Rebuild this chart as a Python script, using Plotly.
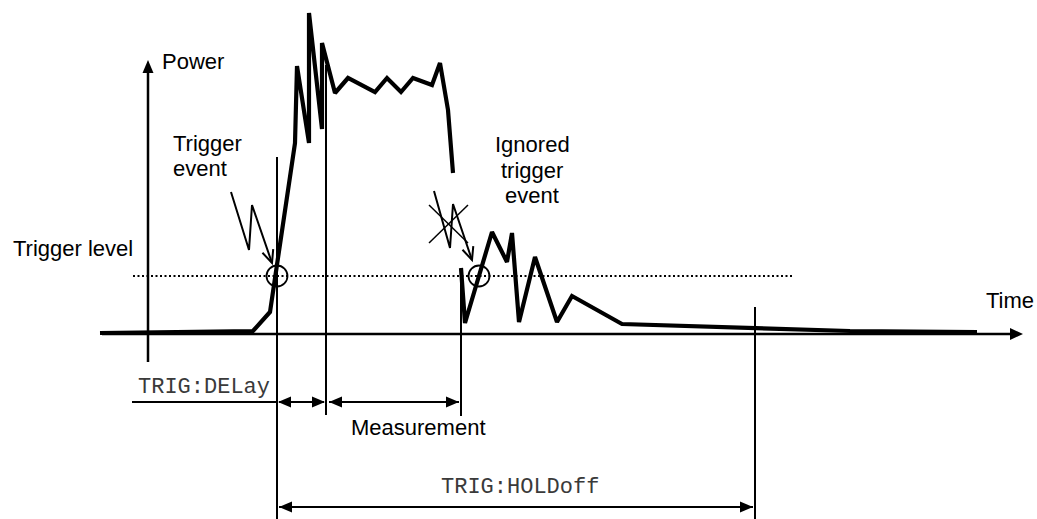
import math
import plotly.graph_objects as go

# ---- data (diagram units: x = time position, y = screen-like vertical position, down = lower power) ----
sig1_time = [100, 250, 253, 270, 295, 297, 309, 309, 322, 322, 335, 348, 375, 387, 401, 413, 432, 440, 448, 453]
sig1_level = [333, 331, 331, 312, 143, 66, 143, 13, 129, 43, 93, 78, 92, 78, 92, 78, 85, 63, 110, 173]
sig2_time = [461, 465, 492, 507, 512, 519, 535, 557, 572, 622, 850, 977]
sig2_level = [268, 323, 232, 262, 233, 322, 257, 322, 296, 324, 331, 332]

trigger_level = 276
trigger_line_span = [133, 792]
baseline = 334
time_axis_span = [102, 1023]
power_axis_x = 148
power_axis_span = [362, 60]

t_trigger = 277
t_meas_start = 326
t_meas_end = 461
t_holdoff_end = 755
trig_event_t = 277
ignored_event_t = 479

delay_row = 402
hold_row = 507

trig_bolt_x = [231, 249, 252, 272]
trig_bolt_y = [192, 250, 205, 263]
ign_bolt_x = [434, 450, 453, 472]
ign_bolt_y = [191, 248, 204, 260]

SANS = "Liberation Sans, Arial, sans-serif"
MONO = "Liberation Mono, Courier New, monospace"

fig = go.Figure()

def line(xs, ys, w, dash=None):
    fig.add_trace(go.Scatter(x=xs, y=ys, mode="lines", hoverinfo="skip", showlegend=False,
                             line=dict(color="black", width=w, dash=dash)))

shapes = []

def filled_head(tipx, tipy, dx, dy, length=13, half=5.5):
    n = math.hypot(dx, dy)
    ux, uy = dx / n, dy / n
    bx, by = tipx - ux * length, tipy - uy * length
    px, py = -uy * half, ux * half
    shapes.append(dict(type="path", xref="x", yref="y",
                       path=f"M {tipx},{tipy} L {bx+px},{by+py} L {bx-px},{by-py} Z",
                       fillcolor="black", line=dict(color="black", width=0)))

def open_head(tipx, tipy, dx, dy, length=14, ang=24):
    n = math.hypot(dx, dy)
    ux, uy = dx / n, dy / n
    pts = []
    for s in (1, -1):
        a = math.radians(ang) * s
        rx = ux * math.cos(a) - uy * math.sin(a)
        ry = ux * math.sin(a) + uy * math.cos(a)
        pts.append((tipx - rx * length, tipy - ry * length))
    shapes.append(dict(type="path", xref="x", yref="y",
                       path=f"M {pts[0][0]},{pts[0][1]} L {tipx},{tipy} L {pts[1][0]},{pts[1][1]}",
                       line=dict(color="black", width=2)))

# axes
line([time_axis_span[0], time_axis_span[1] - 10], [baseline, baseline], 2.5)
filled_head(time_axis_span[1], baseline, 1, 0, length=13, half=6)
line([power_axis_x, power_axis_x], [power_axis_span[0], power_axis_span[1] + 10], 2.5)
filled_head(power_axis_x, power_axis_span[1], 0, -1, length=13, half=5.5)

# trigger level
line(trigger_line_span, [trigger_level, trigger_level], 1.8, dash="2px,2.5px")

# vertical markers
line([t_trigger, t_trigger], [157, 519], 2)
line([t_meas_start, t_meas_start], [65, 415], 2)
line([t_meas_end, t_meas_end], [268, 416], 2)
line([t_holdoff_end, t_holdoff_end], [307, 519], 2)

# signal
line(sig1_time, sig1_level, 4.2)
line(sig2_time, sig2_level, 4.2)

# circles at trigger crossings
for cx in (trig_event_t, ignored_event_t):
    shapes.append(dict(type="circle", xref="x", yref="y", x0=cx - 10.5, x1=cx + 10.5,
                       y0=trigger_level - 10.5, y1=trigger_level + 10.5,
                       line=dict(color="black", width=1.8)))

# lightning arrows
line(trig_bolt_x, trig_bolt_y, 2)
open_head(trig_bolt_x[-1], trig_bolt_y[-1], trig_bolt_x[-1] - trig_bolt_x[-2], trig_bolt_y[-1] - trig_bolt_y[-2])
line(ign_bolt_x, ign_bolt_y, 2)
open_head(ign_bolt_x[-1], ign_bolt_y[-1], ign_bolt_x[-1] - ign_bolt_x[-2], ign_bolt_y[-1] - ign_bolt_y[-2])
# cross over ignored event
line([429, 468], [205, 243], 1.5)
line([429, 468], [243, 205], 1.5)

# dimension rows
line([132, t_trigger], [delay_row, delay_row], 2)
line([t_trigger + 2, t_meas_start - 2], [delay_row, delay_row], 2)
filled_head(t_trigger + 1, delay_row, -1, 0)
filled_head(t_meas_start - 1, delay_row, 1, 0)
line([t_meas_start + 3, t_meas_end - 2], [delay_row, delay_row], 2)
filled_head(t_meas_start + 3, delay_row, -1, 0)
filled_head(t_meas_end - 2, delay_row, 1, 0)
line([t_trigger + 2, t_holdoff_end - 2], [hold_row, hold_row], 2)
filled_head(t_trigger + 2, hold_row, -1, 0)
filled_head(t_holdoff_end - 2, hold_row, 1, 0)

# texts
def text(s, x, y, font, anchor="left", size=22, color="black"):
    fig.add_annotation(x=x, y=y, xref="x", yref="y", text=s, showarrow=False,
                       xanchor=anchor, yanchor="middle",
                       font=dict(family=font, size=size, color=color))

text("Power", 160, 61, SANS)
text("Trigger", 171, 143, SANS)
text("event", 171, 168, SANS)
text("Trigger level", 11, 248, SANS)
text("Ignored", 532, 144, SANS, "center")
text("trigger", 532, 170, SANS, "center")
text("event", 532, 195, SANS, "center")
text("Time", 984, 300, SANS)
text("Measurement", 418, 427, SANS, "center")
text("TRIG:DELay", 136, 387, MONO, color="#3a3a3a")
text("TRIG:HOLDoff", 439, 487, MONO, color="#3a3a3a")

fig.update_layout(
    width=1037, height=519, margin=dict(l=0, r=0, t=0, b=0),
    paper_bgcolor="white", plot_bgcolor="white", shapes=shapes,
    xaxis=dict(range=[0, 1037], visible=False, fixedrange=True),
    yaxis=dict(range=[519, 0], visible=False, fixedrange=True),
)
fig.write_html("out.html", config={"displayModeBar": False},
               post_script="document.body.style.margin='0';document.body.style.overflow='hidden';")
